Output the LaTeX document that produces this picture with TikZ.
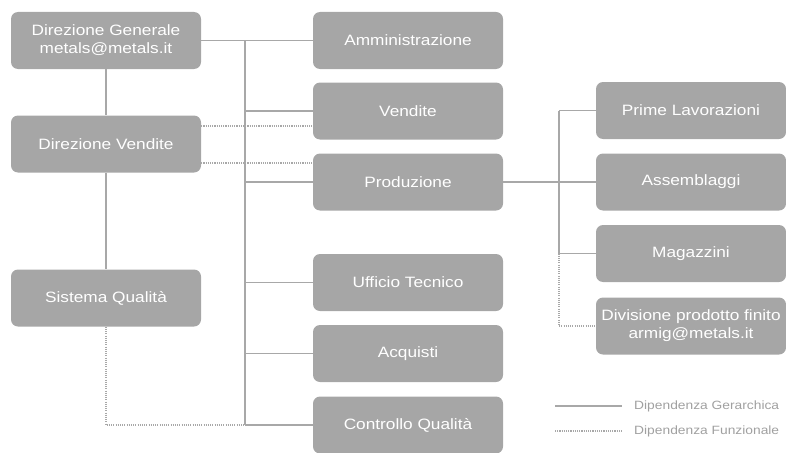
\documentclass[tikz,border=0pt]{standalone}
\usepackage{fontspec}
\setmainfont{Liberation Sans}[FakeStretch=1.15]
\definecolor{boxgray}{HTML}{A6A6A6}
\definecolor{linegray}{HTML}{A8A8A8}
\definecolor{legtext}{HTML}{A0A0A0}
\begin{document}
\begin{tikzpicture}[x=1pt,y=-1pt,
  box/.style={rectangle, rounded corners=7pt, fill=boxgray, text=white,
    minimum width=190pt, minimum height=57pt, inner sep=0pt, align=center,
    font=\fontsize{15}{18}\selectfont},
  solidline/.style={draw=linegray, line width=1.6pt},
  dotline/.style={draw=linegray, line width=1.6pt, dash pattern=on 1.1pt off 1.1pt},
  legend/.style={text=legtext, anchor=west, inner sep=0pt, font=\fontsize{12}{14}\selectfont}]
\useasboundingbox (0,0) rectangle (786,452);
% left column
\node[box] (dg) at (106,40.5) {Direzione Generale\\metals@metals.it};
\node[box] (dv) at (106,144) {Direzione Vendite};
\node[box] (sq) at (106,298) {Sistema Qualità};
% middle column
\node[box] (amm) at (408,40.5) {Amministrazione};
\node[box] (ven) at (408,111) {Vendite};
\node[box] (pro) at (408,182) {Produzione};
\node[box] (ut) at (408,282.5) {Ufficio Tecnico};
\node[box] (acq) at (408,353.5) {Acquisti};
\node[box] (cq) at (408,425) {Controllo Qualità};
% right column
\node[box] (pl) at (691,110.5) {Prime Lavorazioni};
\node[box] (ass) at (691,182) {Assemblaggi};
\node[box] (mag) at (691,253.5) {Magazzini};
\node[box] (div) at (691,326) {Divisione prodotto finito\\armig@metals.it};
% trunk
\coordinate (ttop) at (245,40.5);
\coordinate (tbot) at (245,425);
\draw[solidline] (dg.east) -- (amm.west);
\draw[solidline] (ttop) -- (tbot);
\draw[solidline] (ttop |- ven.west) -- (ven.west);
\draw[solidline] (ttop |- pro.west) -- (pro.west);
\draw[solidline] (ttop |- ut.west) -- (ut.west);
\draw[solidline] (ttop |- acq.west) -- (acq.west);
\draw[solidline] (tbot) -- (cq.west);
% left vertical
\draw[solidline] (dg.south) -- (dv.north);
\draw[solidline] (dv.south) -- (sq.north);
% dotted functional
\coordinate (dva) at ([yshift=18pt]dv.east);
\coordinate (dvb) at ([yshift=-19pt]dv.east);
\draw[dotline] (dva) -- (dva -| ven.west);
\draw[dotline] (dvb) -- (dvb -| pro.west);
\draw[dotline] (sq.south) |- (tbot);
% production branch
\coordinate (ptop) at (559,110.5);
\coordinate (pmid) at (559,253.5);
\draw[solidline] (pro.east) -- (ass.west);
\draw[solidline] (ptop) -- (pmid);
\draw[solidline] (ptop) -- (pl.west);
\draw[solidline] (pmid) -- (mag.west);
\draw[dotline] (pmid) |- (div.west);
% legend
\coordinate (l1a) at (555,406);
\coordinate (l1b) at (622,406);
\coordinate (l2a) at (555,431);
\coordinate (l2b) at (622,431);
\draw[solidline, line width=1.2pt] (l1a) -- (l1b);
\draw[dotline, line width=1.2pt] (l2a) -- (l2b);
\node[legend] (lg1) at (634,406) {Dipendenza Gerarchica};
\node[legend] (lg2) at (634,431) {Dipendenza Funzionale};
\end{tikzpicture}
\end{document}
